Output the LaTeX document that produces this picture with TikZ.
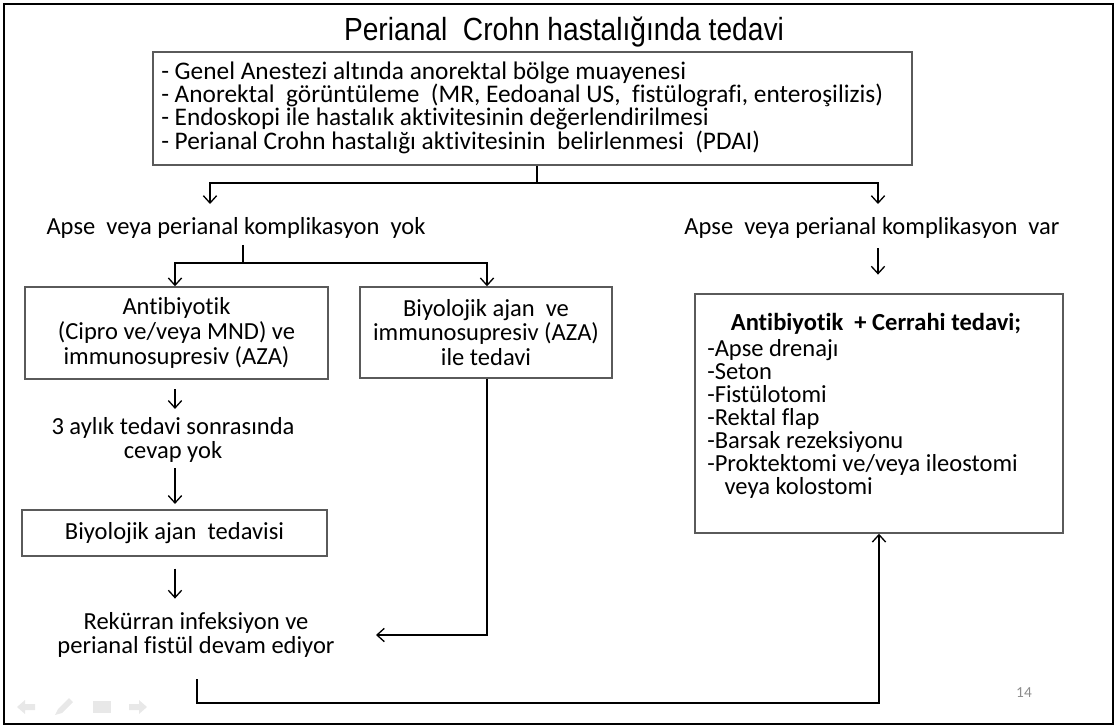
\documentclass[tikz,border=0pt]{standalone}
\usepackage{fontspec}
\setmainfont{Carlito}[Ligatures=NoCommon]
\newfontfamily\titlefont[FakeStretch=0.88]{Liberation Sans}
\usetikzlibrary{arrows.meta,calc}

\definecolor{boxgray}{HTML}{5A5A5A}
\definecolor{navgray}{HTML}{E8E8E8}
\definecolor{numgray}{HTML}{8C8C8C}

\newcommand\bodysize{\fontsize{18.4}{18.5}\selectfont\lineskiplimit=-20pt}
\newcommand\headsize{\fontsize{19}{17.5}\selectfont\lineskiplimit=-20pt}
\newcommand\listsize{\fontsize{18.4}{17.25}\selectfont\lineskiplimit=-20pt}

\begin{document}
\begin{tikzpicture}[x=0.75pt,y=-0.75pt,
  every node/.style={font=\bodysize, text=black},
  box/.style={draw=boxgray, line width=1.1pt, inner sep=0pt, align=center},
  label/.style={inner sep=0pt, align=center},
  link/.style={line width=1.5pt, draw=black},
  arr/.style={link, -{Straight Barb[length=5.5pt,width=10pt,line width=1pt]}}]

% page and frame
\useasboundingbox (0,0) rectangle (1117,728);
\draw[line width=2.2pt] (4,4) rectangle (1113,724);

% heading
\node[inner sep=0pt, anchor=base, font=\titlefont\fontsize{24}{28}\selectfont] (title) at (564,40)
  {Perianal\ \ Crohn hastalığında tedavi};

% initial assessment
\node[box, minimum width=569.25pt, minimum height=84.75pt] (top) at (532.5,108.5) {};
\node[label, anchor=west, align=left, font=\headsize] (topText) at (161,107.5)
  {- Genel Anestezi altında anorektal bölge muayenesi\\
   - Anorektal\ \ görüntüleme\ \ (MR, Eedoanal US,\ \ fistülografi, enteroşilizis)\\
   - Endoskopi ile hastalık aktivitesinin değerlendirilmesi\\
   - Perianal Crohn hastalığı aktivitesinin\ \ belirlenmesi\ \ (PDAI)};

% two branches
\node[label] (noL) at (236,228) {Apse\ \ veya perianal komplikasyon\ \ yok};
\node[label] (noR) at (872,228) {Apse\ \ veya perianal komplikasyon\ \ var};

% left branch boxes
\node[box, minimum width=227.25pt, minimum height=69pt] (A) at (176.5,333)
  {Antibiyotik\\(Cipro ve/veya MND) ve\\immunosupresiv (AZA)};
\node[box, minimum width=189pt, minimum height=68.25pt] (B) at (486,332.5)
  {Biyolojik ajan\ \ ve\\immunosupresiv (AZA)\\ile tedavi};
\node[label] (wait) at (173,440) {3 aylık tedavi sonrasında\\cevap yok};
\node[box, minimum width=228.75pt, minimum height=34.5pt] (C) at (174.5,533)
  {Biyolojik ajan\ \ tedavisi};
\node[label] (rec) at (196,635) {Rekürran infeksiyon ve\\perianal fistül devam ediyor};

% surgical treatment
\node[box, minimum width=276pt, minimum height=179.25pt] (D) at (879,413.5) {};
\node[label, anchor=north, font=\bodysize\bfseries] (Dhead) at (876,313)
  {Antibiyotik\ \ + Cerrahi tedavi;};
\node[label, anchor=north west, align=left, font=\listsize] (Dlist) at (707,339)
  {-Apse drenajı\\-Seton\\-Fistülotomi\\-Rektal flap\\-Barsak rezeksiyonu\\
   -Proktektomi ve/veya ileostomi\\\hspace*{13pt}veya kolostomi};

% junction points
\coordinate (s1) at (537,183);
\coordinate (s1L) at (210,183);
\coordinate (s1R) at (878,183);
\coordinate (s2) at (243,263);
\coordinate (s2L) at (175,263);
\coordinate (s2R) at (487,263);
\coordinate (recIn) at (376,635);
\coordinate (recOut) at (197,679);
\coordinate (floor) at (197,703);

% connectors
\draw[link] (top.south -| s1) -- (s1);
\draw[arr] (s1) -- (s1L) -- ($(s1L)+(0,21)$);
\draw[arr] (s1) -- (s1R) -- ($(s1R)+(0,21)$);

\draw[link] (noL.south -| s2) ++(0,6) -- (s2);
\draw[arr] (s2) -- (s2L) -- (s2L |- A.north);
\draw[arr] (s2) -- (s2R) -- (s2R |- B.north);

\draw[arr, shorten <=7pt, shorten >=14pt] (noR.south -| s1R) -- (s1R |- D.north);

\draw[arr, shorten <=7pt, shorten >=6pt] (A.south -| s2L) -- (s2L |- wait.north);
\draw[arr, shorten <=4pt, shorten >=4pt] (wait.south -| s2L) -- (s2L |- C.north);
\draw[arr, shorten <=9pt, shorten >=10pt] (C.south -| s2L) -- (s2L |- rec.north);

\draw[arr] (B.south -| s2R) |- (recIn);
\draw[arr] (recOut) -- (floor) -| (D.south);

% slide number
\node[inner sep=0pt, text=numgray, font=\fontsize{11.5}{14}\selectfont] (pnum) at (1024,693) {14};

% slide navigation marks
\fill[navgray] (17,707) -- (25,700) -- (25,704) -- (35,704) -- (35,710) -- (25,710) -- (25,714) -- cycle;
\fill[navgray] (55,715) -- (58,709) -- (69,698) -- (73,702) -- (62,713) -- cycle;
\fill[navgray] (93,701) rectangle (111,713);
\fill[navgray] (147,707) -- (139,700) -- (139,704) -- (129,704) -- (129,710) -- (139,710) -- (139,714) -- cycle;
\end{tikzpicture}
\end{document}
